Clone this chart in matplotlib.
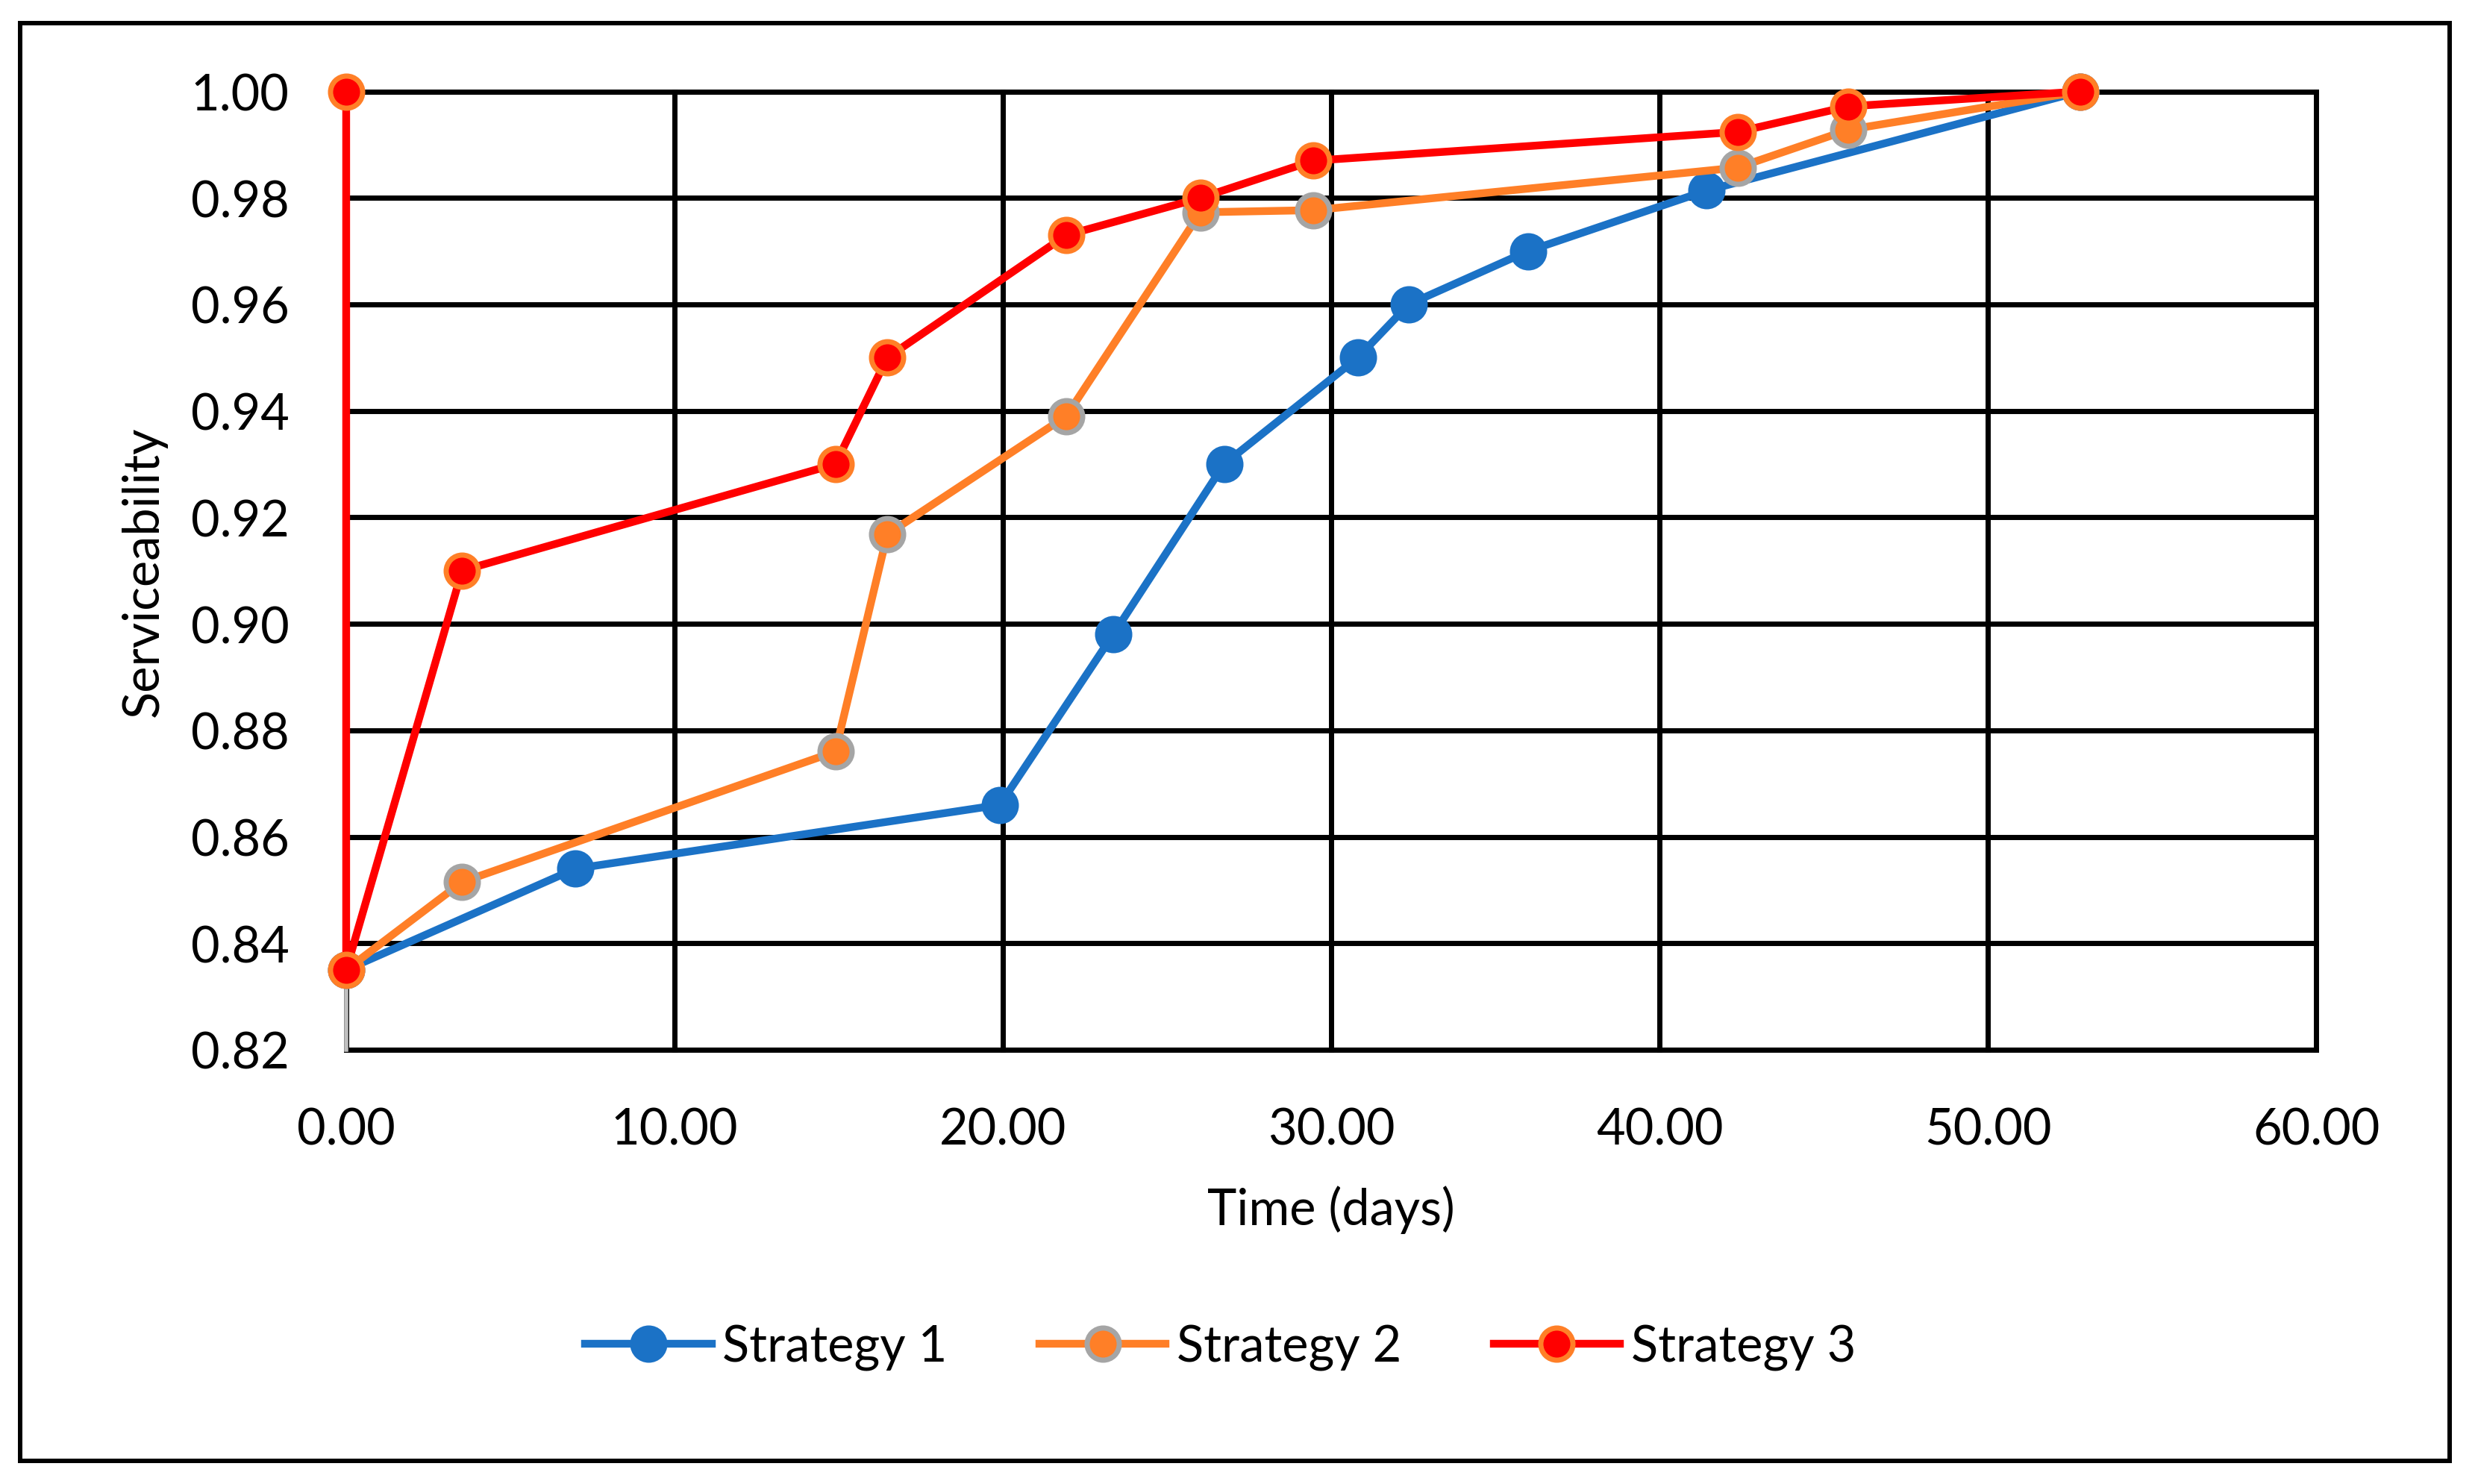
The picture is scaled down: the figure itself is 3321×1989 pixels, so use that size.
import matplotlib
matplotlib.use("Agg")
import matplotlib.pyplot as plt
from matplotlib.patches import Rectangle
from matplotlib.ticker import FormatStrFormatter, MultipleLocator

plt.rcParams['font.family'] = ['Lato', 'DejaVu Sans']

# data
s1_time = [0, 6.98, 19.91, 23.36, 26.74, 30.81, 32.36, 35.99, 41.44, 52.82]
s1_serv = [0.835, 0.854, 0.866, 0.898, 0.930, 0.950, 0.960, 0.970, 0.9814, 1.00]

s2_time = [0, 3.53, 14.90, 16.48, 21.93, 26.02, 29.46, 42.38, 45.75, 52.82]
s2_serv = [0.835, 0.8515, 0.876, 0.9168, 0.939, 0.9773, 0.9777, 0.9857, 0.9928, 1.00]

s3_time = [0, 0, 3.53, 14.90, 16.48, 21.93, 26.02, 29.46, 42.38, 45.75, 52.82]
s3_serv = [1.00, 0.835, 0.910, 0.930, 0.950, 0.973, 0.980, 0.987, 0.9924, 0.9972, 1.00]

labels = ["Strategy 1", "Strategy 2", "Strategy 3"]

fig = plt.figure(figsize=(33.21, 19.90), dpi=100)
ax = fig.add_axes([0.1397, 0.2925, 0.7950, 0.6454])

ax.plot(s1_time, s1_serv, color='#1B72C6', lw=7.5, marker='o', ms=33,
        mfc='#1B72C6', mec='#1B72C6', mew=3, label=labels[0], zorder=3,
        clip_on=False)
ax.plot(s2_time, s2_serv, color='#FF7F27', lw=7.5, marker='o', ms=31,
        mfc='#FF7F27', mec='#A5A5A5', mew=5, label=labels[1], zorder=4,
        clip_on=False)
ax.plot(s3_time, s3_serv, color='#FF0000', lw=7.5, marker='o', ms=31,
        mfc='#FF0000', mec='#FF7F27', mew=5, label=labels[2], zorder=5,
        clip_on=False)

ax.set_xlim(0, 60)
ax.set_ylim(0.82, 1.00)
ax.xaxis.set_major_locator(MultipleLocator(10))
ax.yaxis.set_major_locator(MultipleLocator(0.02))
ax.xaxis.set_major_formatter(FormatStrFormatter('%.2f'))
ax.yaxis.set_major_formatter(FormatStrFormatter('%.2f'))

ax.grid(True, color='black', lw=5, zorder=1)
ax.set_axisbelow(True)
for gl in ax.get_xgridlines() + ax.get_ygridlines():
    gl.set_clip_on(False)
for side in ['top', 'right', 'bottom']:
    ax.spines[side].set_visible(False)
ax.spines['left'].set_color('#BFBFBF')
ax.spines['left'].set_linewidth(4)
ax.spines['left'].set_zorder(2)

ax.tick_params(length=0, labelsize=48, pad=55)

ax.set_xlabel("Time (days)", fontsize=48, va='center')
ax.xaxis.set_label_coords(0.5, -0.1666)
ax.set_ylabel("Serviceability", fontsize=48, va='center')
ax.yaxis.set_label_coords(-0.1027, 0.5)

fig.legend(loc='center', bbox_to_anchor=(0.4925, 1 - 1807 / 1990), ncol=3,
           frameon=False, fontsize=48, handlelength=2.54, handletextpad=0.22,
           columnspacing=1.85, markerscale=1.0)

fig.patches.append(Rectangle((0.0081, 0.0156), 0.9805, 0.9684,
                             transform=fig.transFigure, fill=False,
                             ec='black', lw=4.3))

fig.savefig("out.png", dpi=100)
